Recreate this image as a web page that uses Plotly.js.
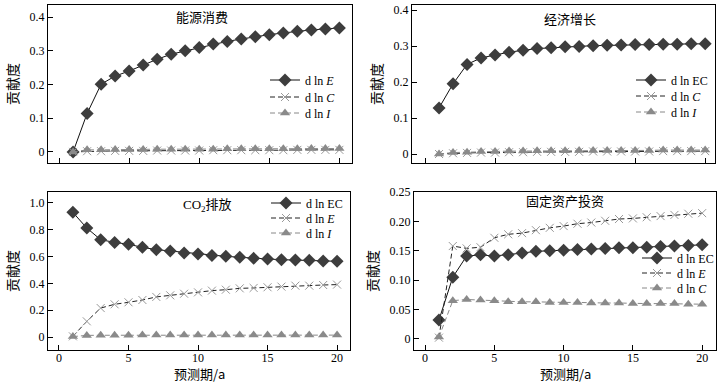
<!DOCTYPE html>
<html><head><meta charset="utf-8">
<script src="https://cdn.plot.ly/plotly-3.0.1.min.js"></script>
<style>html,body{margin:0;padding:0;background:#fff}#chart{width:723px;height:392px}</style>
</head><body><div id="chart"></div>
<script>
const periods = [1,2,3,4,5,6,7,8,9,10,11,12,13,14,15,16,17,18,19,20];
const xTicks = [0,5,10,15,20];

// Panel 1: 能源消费
const energy_dlnE = [0,0.114,0.201,0.225,0.240,0.258,0.275,0.290,0.300,0.310,0.320,0.328,0.335,0.342,0.348,0.353,0.358,0.362,0.365,0.368];
const energy_dlnC = [0,0.002,0.002,0.003,0.003,0.003,0.004,0.004,0.004,0.004,0.005,0.005,0.005,0.005,0.005,0.005,0.006,0.006,0.006,0.006];
const energy_dlnI = [0,0.006,0.006,0.007,0.007,0.007,0.008,0.008,0.008,0.008,0.008,0.009,0.009,0.009,0.009,0.009,0.009,0.010,0.010,0.010];

// Panel 2: 经济增长
const growth_dlnEC = [0.128,0.195,0.249,0.267,0.275,0.283,0.288,0.293,0.295,0.298,0.299,0.301,0.302,0.303,0.304,0.304,0.305,0.305,0.306,0.306];
const growth_dlnC = [0,0.002,0.003,0.004,0.004,0.005,0.005,0.006,0.006,0.006,0.006,0.007,0.007,0.007,0.007,0.007,0.008,0.008,0.008,0.008];
const growth_dlnI = [0,0.004,0.005,0.007,0.007,0.008,0.008,0.009,0.009,0.009,0.010,0.010,0.010,0.010,0.010,0.010,0.011,0.011,0.011,0.011];

// Panel 3: CO2排放
const co2_dlnEC = [0.930,0.813,0.726,0.706,0.692,0.669,0.652,0.642,0.627,0.619,0.609,0.602,0.595,0.587,0.582,0.577,0.575,0.572,0.567,0.565];
const co2_dlnE = [0.005,0.117,0.216,0.244,0.259,0.276,0.299,0.311,0.323,0.333,0.346,0.353,0.363,0.366,0.371,0.376,0.383,0.383,0.388,0.391];
const co2_dlnI = [0.003,0.012,0.013,0.013,0.013,0.014,0.014,0.014,0.014,0.014,0.014,0.014,0.014,0.014,0.014,0.014,0.014,0.014,0.014,0.014];

// Panel 4: 固定资产投资
const invest_dlnEC = [0.032,0.105,0.141,0.143,0.141,0.143,0.146,0.149,0.150,0.151,0.152,0.153,0.154,0.155,0.155,0.156,0.157,0.158,0.159,0.160];
const invest_dlnE = [0.002,0.158,0.154,0.156,0.172,0.178,0.180,0.185,0.189,0.192,0.196,0.198,0.201,0.204,0.205,0.207,0.209,0.211,0.213,0.214];
const invest_dlnC = [0.003,0.065,0.067,0.066,0.065,0.063,0.063,0.063,0.062,0.062,0.062,0.061,0.061,0.061,0.060,0.060,0.060,0.060,0.059,0.059];

const panelTitles = ['能源消费','经济增长','CO<sub>2</sub>排放','固定资产投资'];
const yTitle = '贡献度';
const xTitle = '预测期/a';

const SERIF = 'Liberation Serif, Times New Roman, Noto Sans CJK SC, serif';
const CJK = 'Noto Sans CJK SC, sans-serif';
const TITLEFONT = 'Liberation Serif, Noto Sans CJK SC, serif';

function solidDiamond(y, name, xa, ya, lg){
  return {x: periods, y: y, name: name, xaxis: xa, yaxis: ya, legend: lg, type:'scatter', mode:'lines+markers',
    line:{color:'#111', width:1}, marker:{symbol:'diamond', size:10, color:'#3d3d3d'}};
}
function dashX(y, name, xa, ya, lg){
  return {x: periods, y: y, name: name, xaxis: xa, yaxis: ya, legend: lg, type:'scatter', mode:'lines+markers',
    line:{color:'#222', width:1, dash:'5px,3px'}, marker:{symbol:'x-thin-open', size:8, color:'#999', line:{color:'#999', width:1}}};
}
function dashTri(y, name, xa, ya, lg){
  return {x: periods, y: y, name: name, xaxis: xa, yaxis: ya, legend: lg, type:'scatter', mode:'lines+markers',
    line:{color:'#888', width:1, dash:'5px,3px'}, marker:{symbol:'triangle-up', size:9, color:'#8a8a8a'}};
}

const data = [
  solidDiamond(energy_dlnE, 'd ln <i>E</i>', 'x', 'y', 'legend'),
  dashX(energy_dlnC, 'd ln <i>C</i>', 'x', 'y', 'legend2'),
  dashTri(energy_dlnI, 'd ln <i>I</i>', 'x', 'y', 'legend3'),
  solidDiamond(growth_dlnEC, 'd ln EC', 'x2', 'y2', 'legend4'),
  dashX(growth_dlnC, 'd ln <i>C</i>', 'x2', 'y2', 'legend5'),
  dashTri(growth_dlnI, 'd ln <i>I</i>', 'x2', 'y2', 'legend6'),
  solidDiamond(co2_dlnEC, 'd ln EC', 'x3', 'y3', 'legend7'),
  dashX(co2_dlnE, 'd ln <i>E</i>', 'x3', 'y3', 'legend8'),
  dashTri(co2_dlnI, 'd ln <i>I</i>', 'x3', 'y3', 'legend9'),
  solidDiamond(invest_dlnEC, 'd ln EC', 'x4', 'y4', 'legend10'),
  dashX(invest_dlnE, 'd ln <i>E</i>', 'x4', 'y4', 'legend11'),
  dashTri(invest_dlnC, 'd ln <i>C</i>', 'x4', 'y4', 'legend12'),
];

function xax(domain, range, anchor, labels){
  return {domain: domain, range: range, anchor: anchor, showline:true, mirror:true, linecolor:'#000', linewidth:1,
    ticks:'inside', ticklen:5, tickcolor:'#000', tickvals: xTicks, showgrid:false, zeroline:false,
    showticklabels: labels, ticklabelstandoff: -3, tickfont:{family:SERIF, size:12, color:'#000'}};
}
function yax(domain, range, anchor, tickvals, ticktext){
  return {domain: domain, range: range, anchor: anchor, showline:true, mirror:true, linecolor:'#000', linewidth:1,
    ticks:'inside', ticklen:5, tickcolor:'#000', tickvals: tickvals, ticktext: ticktext, showgrid:false, zeroline:false,
    tickfont:{family:SERIF, size:12, color:'#000'},
    title:{text: yTitle, font:{family:CJK, size:14, color:'#000'}, standoff:7}};
}
function leg(x, y){
  return {x: x, y: y, xanchor:'left', yanchor:'middle', bgcolor:'rgba(0,0,0,0)', borderwidth:0,
    font:{family:SERIF, size:12, color:'#000'}, itemwidth:30};
}
function label(text, x, y, family){
  return {text: text, x: x, y: y, xref:'paper', yref:'paper', xanchor:'center', yanchor:'middle', showarrow:false,
    font:{family:family, size:13, color:'#000'}};
}

const W = 723, H = 392;
const layout = {
  width: W, height: H, margin:{l:0, r:0, t:0, b:0}, paper_bgcolor:'#fff', plot_bgcolor:'#fff', showlegend:true,
  font:{family:SERIF, color:'#000'},
  xaxis: xax([48/W, 352/W], [-0.79, 20.9], 'y', false),
  yaxis: yax([1-163/H, 1-5/H], [-0.033, 0.436], 'x', [0,0.1,0.2,0.3,0.4], ['0','0.1','0.2','0.3','0.4']),
  xaxis2: xax([412/W, 715/W], [-0.93, 20.7], 'y2', false),
  yaxis2: yax([1-163/H, 1-5/H], [-0.025, 0.414], 'x2', [0,0.1,0.2,0.3,0.4], ['0','0.1','0.2','0.3','0.4']),
  xaxis3: xax([48/W, 350/W], [-0.79, 20.93], 'y3', true),
  yaxis3: yax([1-350/H, 1-192/H], [-0.097, 1.082], 'x3', [0,0.2,0.4,0.6,0.8,1.0], ['0','0.2','0.4','0.6','0.8','1.0']),
  xaxis4: xax([414/W, 716/W], [-0.8, 21.0], 'y4', true),
  yaxis4: yax([1-350/H, 1-192/H], [-0.019, 0.25], 'x4', [0,0.05,0.10,0.15,0.20,0.25], ['0','0.05','0.10','0.15','0.20','0.25']),
  legend: leg(265/W, 1-80/H),
  legend2: leg(265/W, 1-97/H),
  legend3: leg(265/W, 1-113/H),
  legend4: leg(631/W, 1-80/H),
  legend5: leg(631/W, 1-96/H),
  legend6: leg(631/W, 1-112/H),
  legend7: leg(266/W, 1-203/H),
  legend8: leg(266/W, 1-218/H),
  legend9: leg(266/W, 1-233/H),
  legend10: leg(637/W, 1-258/H),
  legend11: leg(637/W, 1-273/H),
  legend12: leg(637/W, 1-288/H),
  annotations: [
    label(panelTitles[0], 202/W, 1-17/H, TITLEFONT),
    label(panelTitles[1], 570/W, 1-20/H, TITLEFONT),
    label(panelTitles[2], 207/W, 1-205/H, TITLEFONT),
    label(panelTitles[3], 565/W, 1-202/H, TITLEFONT),
    label(xTitle, 199/W, 1-373/H, CJK),
    label(xTitle, 565/W, 1-373/H, CJK),
  ]
};
Plotly.newPlot('chart', data, layout, {displayModeBar:false, staticPlot:true});
</script></body></html>
